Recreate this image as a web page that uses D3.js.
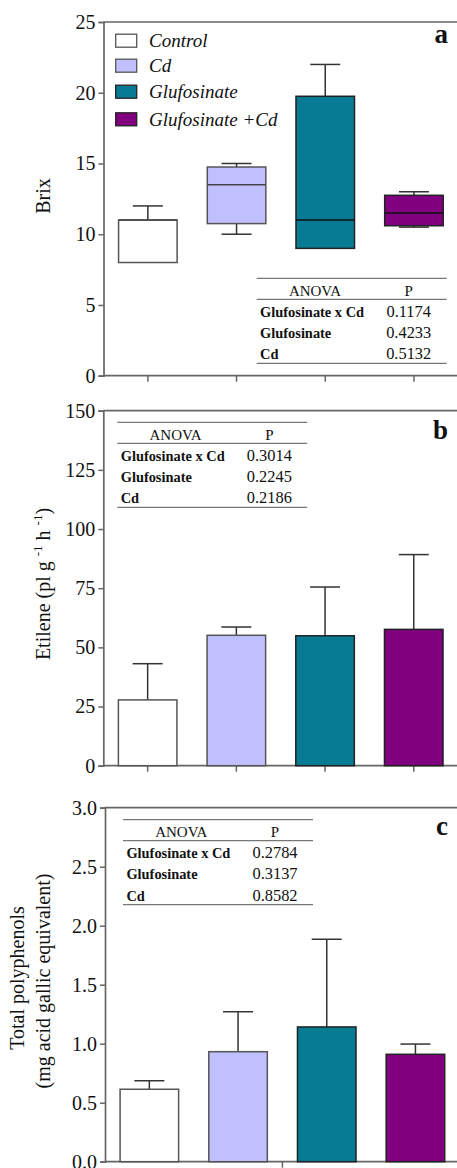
<!DOCTYPE html>
<html><head><meta charset="utf-8">
<script src="https://cdn.jsdelivr.net/npm/d3@7"></script>
<style>body{margin:0;background:#fff}svg{display:block}</style>
</head><body><svg id="chart" width="457" height="1168"></svg>
<script>
const categories = ["Control", "Cd", "Glufosinate", "Glufosinate +Cd"];
const colors = ["#ffffff", "#c0c0ff", "#087b94", "#800080"];
// Panel a: Brix box plot (min, q1, median, q3, max)
const brixMin = [8, 10, 9, 10.5];
const brixQ1 = [8, 10.75, 9, 10.6];
const brixMedian = [11, 13.5, 11, 11.5];
const brixQ3 = [11, 14.75, 19.75, 12.75];
const brixMax = [12, 15, 22, 13];
// Panel b: Ethylene mean and upper error
const etileneMean = [27.8, 55.1, 54.9, 57.6];
const etileneErr = [43.1, 58.6, 75.5, 89.2];
// Panel c: Total polyphenols
const polyMean = [0.614, 0.932, 1.142, 0.91];
const polyErr = [0.686, 1.271, 1.885, 0.997];
// ANOVA tables
const anovaTerms = ["Glufosinate x Cd", "Glufosinate", "Cd"];
const anovaA = ["0.1174", "0.4233", "0.5132"];
const anovaB = ["0.3014", "0.2245", "0.2186"];
const anovaC = ["0.2784", "0.3137", "0.8582"];
const ticksA = [0, 5, 10, 15, 20, 25];
const ticksB = [0, 25, 50, 75, 100, 125, 150];
const ticksC = [0, 0.5, 1.0, 1.5, 2.0, 2.5, 3.0];

const FONT = "'Liberation Serif', Tinos, 'Times New Roman', 'Nimbus Roman', 'DejaVu Serif', serif";
const svg = d3.select("#chart").style("font-family", FONT);
const AX = "#666";

function txt(g) {
  return g.append("text").style("font-family", FONT).attr("fill", "#111");
}

function panel(opt) {
  const g = svg.append("g");
  const x = d3.scaleBand().domain(categories).range([opt.x0, opt.x0 + 354.8]).paddingInner(0.34).paddingOuter(0.17);
  const y = d3.scaleLinear().domain(opt.domain).range([opt.bottom, opt.top]);
  g.append("line").attr("x1", opt.x0).attr("x2", 460).attr("y1", opt.top).attr("y2", opt.top)
    .attr("stroke", AX).attr("stroke-width", 1.7);
  const ya = g.append("g").attr("transform", `translate(${opt.x0},0)`)
    .call(d3.axisLeft(y).tickValues(opt.ticks).tickSize(5).tickPadding(3).tickFormat(opt.fmt));
  ya.attr("font-family", null);
  ya.select(".domain").attr("stroke", AX).attr("stroke-width", 1.7);
  ya.selectAll(".tick line").attr("stroke", AX).attr("stroke-width", 1.5);
  ya.selectAll(".tick text").attr("font-size", 20).attr("fill", "#111").style("font-family", FONT);
  const xa = g.append("g").attr("transform", `translate(0,${opt.bottom})`)
    .call(d3.axisBottom(x).tickSize(6).tickFormat(""));
  xa.select(".domain").remove();
  g.append("line").attr("x1", opt.x0).attr("x2", 460).attr("y1", opt.bottom).attr("y2", opt.bottom)
    .attr("stroke", AX).attr("stroke-width", 1.7);
  xa.selectAll(".tick line").attr("stroke", AX).attr("stroke-width", 1.5);
  if (opt.midTick) {
    xa.selectAll(".tick").remove();
    const m = (x(categories[1]) + x.bandwidth() + x(categories[2])) / 2;
    g.append("line").attr("x1", m).attr("x2", m).attr("y1", opt.bottom).attr("y2", opt.bottom + 6)
      .attr("stroke", AX).attr("stroke-width", 1.5);
  }
  txt(g).attr("x", 448).attr("y", opt.letterY).attr("text-anchor", "end")
    .attr("font-size", 27).attr("font-weight", "bold").text(opt.letter);
  return {g, x, y};
}

function table(g, left, top, vals) {
  const w = 190;
  const line = (yy) => g.append("line").attr("x1", left).attr("x2", left + w).attr("y1", yy).attr("y2", yy)
    .attr("stroke", "#777").attr("stroke-width", 1.3);
  line(top); line(top + 21); line(top + 85);
  txt(g).attr("x", left + 58.3).attr("y", top + 17.5).attr("text-anchor", "middle").attr("font-size", 15).text("ANOVA");
  txt(g).attr("x", left + 152).attr("y", top + 17.5).attr("text-anchor", "middle").attr("font-size", 15).text("P");
  const rows = [38.4, 59.5, 80.8];
  anovaTerms.forEach((t, i) => {
    txt(g).attr("x", left + 3.4).attr("y", top + rows[i]).attr("font-size", 14.4).attr("font-weight", "bold").text(t);
    txt(g).attr("x", left + 152).attr("y", top + rows[i]).attr("text-anchor", "middle").attr("font-size", 16.4).text(vals[i]);
  });
}

function bars(p, means, errs) {
  const {g, x, y} = p;
  const bw = x.bandwidth();
  categories.forEach((c, i) => {
    const cx = x(c) + bw / 2;
    g.append("line").attr("x1", cx).attr("x2", cx).attr("y1", y(means[i])).attr("y2", y(errs[i]))
      .attr("stroke", "#333").attr("stroke-width", 1.5);
    g.append("line").attr("x1", cx - 15).attr("x2", cx + 15).attr("y1", y(errs[i])).attr("y2", y(errs[i]))
      .attr("stroke", "#333").attr("stroke-width", 1.5);
    g.append("rect").attr("x", x(c)).attr("width", bw).attr("y", y(means[i])).attr("height", y(0) - y(means[i]))
      .attr("fill", colors[i]).attr("stroke", i < 2 ? "#555" : "#222").attr("stroke-width", 1.5);
  });
}

// ---------- Panel a ----------
const pa = panel({x0: 103.5, top: 22, bottom: 375.7, domain: [0, 25], ticks: ticksA, fmt: d3.format("d"), letter: "a", letterY: 43});
{
  const {g, x, y} = pa;
  const bw = x.bandwidth();
  categories.forEach((c, i) => {
    const cx = x(c) + bw / 2;
    const st = i < 2 ? "#555" : "#222";
    [[brixQ3[i], brixMax[i]], [brixMin[i], brixQ1[i]]].forEach(([a, b]) => {
      if (a === b) return;
      g.append("line").attr("x1", cx).attr("x2", cx).attr("y1", y(a)).attr("y2", y(b)).attr("stroke", "#333").attr("stroke-width", 1.5);
    });
    [brixMax[i], brixMin[i]].forEach((v, k) => {
      if (k === 1 && brixMin[i] === brixQ1[i]) return;
      g.append("line").attr("x1", cx - 15).attr("x2", cx + 15).attr("y1", y(v)).attr("y2", y(v)).attr("stroke", "#333").attr("stroke-width", 1.5);
    });
    g.append("rect").attr("x", x(c)).attr("width", bw).attr("y", y(brixQ3[i])).attr("height", y(brixQ1[i]) - y(brixQ3[i]))
      .attr("fill", colors[i]).attr("stroke", st).attr("stroke-width", 1.5);
    g.append("line").attr("x1", x(c)).attr("x2", x(c) + bw).attr("y1", y(brixMedian[i])).attr("y2", y(brixMedian[i]))
      .attr("stroke", i < 2 ? "#444" : "#111").attr("stroke-width", 1.5);
  });
  const ly = [40.7, 65.7, 91.7, 119.3];
  categories.forEach((c, i) => {
    g.append("rect").attr("x", 115.7).attr("y", ly[i] - 6.5).attr("width", 21).attr("height", 13)
      .attr("fill", colors[i]).attr("stroke", i < 2 ? "#555" : "#222").attr("stroke-width", 1.3);
    txt(g).attr("x", 149).attr("y", ly[i] + 6.5).attr("font-size", 19).attr("font-style", "italic").text(c);
  });
  txt(g).attr("transform", "translate(50,196) rotate(-90)").attr("text-anchor", "middle").attr("font-size", 20).text("Brix");
  table(g, 256.7, 278.3, anovaA);
}

// ---------- Panel b ----------
const pb = panel({x0: 103.3, top: 410.7, bottom: 765.7, domain: [0, 150], ticks: ticksB, fmt: d3.format("d"), letter: "b", letterY: 439});
bars(pb, etileneMean, etileneErr);
{
  const t = txt(pb.g).attr("transform", "translate(50,584) rotate(-90)").attr("text-anchor", "middle").attr("font-size", 20);
  t.append("tspan").text("Etilene (pl g ");
  t.append("tspan").attr("font-size", 13).attr("dy", -8).text("-1");
  t.append("tspan").attr("dy", 8).text(" h ");
  t.append("tspan").attr("font-size", 13).attr("dy", -8).text("-1");
  t.append("tspan").attr("dy", 8).text(")");
  table(pb.g, 117.3, 422.3, anovaB);
}

// ---------- Panel c ----------
const pc = panel({x0: 105, top: 807.7, bottom: 1161.7, domain: [0, 3], ticks: ticksC, fmt: d3.format(".1f"), letter: "c", letterY: 835, midTick: true});
bars(pc, polyMean, polyErr);
{
  txt(pc.g).attr("transform", "translate(24,978) rotate(-90)").attr("text-anchor", "middle").attr("font-size", 20).text("Total polyphenols");
  txt(pc.g).attr("transform", "translate(50,981) rotate(-90)").attr("text-anchor", "middle").attr("font-size", 20).text("(mg acid gallic equivalent)");
  table(pc.g, 123, 819.7, anovaC);
}
</script></body></html>
